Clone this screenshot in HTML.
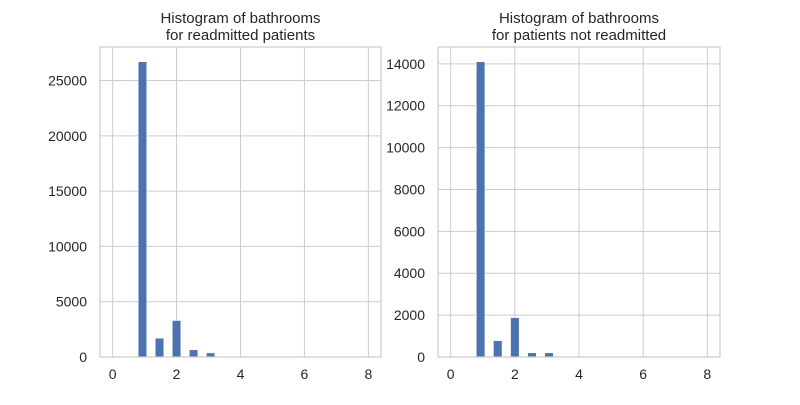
<!DOCTYPE html>
<html><head><meta charset="utf-8"><style>
body{margin:0;background:#fff;}
svg{font-family:"Liberation Sans","DejaVu Sans",sans-serif;}
</style></head><body>
<svg id="c" width="800" height="400" xmlns="http://www.w3.org/2000/svg"></svg>
<script>
const binEdgesMin = 0, binEdgesMax = 8, binCount = 30;
const countsReadmitted = [0,0,0,26700,0,1700,0,3300,0,650,0,370,0,30,0,10,0,0,0,0,0,0,0,0,0,0,0,0,0,1];
const countsNotReadmitted = [0,0,0,14100,0,780,0,1880,0,200,0,200,0,10,0,20,0,0,0,0,0,0,0,0,0,0,0,0,0,1];
const xTicks = [0,2,4,6,8];
const yTicksLeft = [0,5000,10000,15000,20000,25000];
const yTicksRight = [0,2000,4000,6000,8000,10000,12000,14000];
const titles = [["Histogram of bathrooms","for readmitted patients"],["Histogram of bathrooms","for patients not readmitted"]];

const svg = document.getElementById('c');
const NS = 'http://www.w3.org/2000/svg';
function mk(tag, attrs, parent){const e=document.createElementNS(NS,tag);for(const k in attrs)e.setAttribute(k,attrs[k]);(parent||svg).appendChild(e);return e;}

function panel(x0,x1,counts,yTicks,title,name){
  const top=47,bot=357;
  const g=mk('g',{});
  
  
  const maxC=Math.max(...counts)*1.05;
  const xPad=(x1-x0)*0.045;
  const xs=v=>x0+xPad+(v-binEdgesMin)/(binEdgesMax-binEdgesMin)*(x1-x0-2*xPad);
  const ys=v=>bot-v/maxC*(bot-top);
  xTicks.forEach(t=>{
    const l=mk('line',{x1:xs(t),x2:xs(t),y1:top,y2:bot,stroke:'#cccccc','stroke-width':1},g);
    
    
    const tx=mk('text',{x:xs(t),y:bot+22,'text-anchor':'middle','font-size':14,fill:'#262626'},g);
    tx.textContent=t;
    
    
  });
  yTicks.forEach(t=>{
    const l=mk('line',{x1:x0,x2:x1,y1:ys(t),y2:ys(t),stroke:'#cccccc','stroke-width':1},g);
    
    
    const tx=mk('text',{x:x0-13,y:ys(t)+5,'text-anchor':'end','font-size':14,fill:'#262626'},g);
    tx.textContent=t;
    
    
  });
  const w=(binEdgesMax-binEdgesMin)/binCount;
  counts.forEach((c,i)=>{
    if(c<=0)return;
    const a=xs(binEdgesMin+i*w),b=xs(binEdgesMin+(i+1)*w);
    const r=mk('rect',{x:a,y:ys(c),width:b-a,height:bot-ys(c),fill:'#4c72b0',stroke:'#ffffff','stroke-width':0.5},g);
    
    
  });
  const f=mk('rect',{x:x0,y:top,width:x1-x0,height:bot-top,fill:'none',stroke:'#cccccc','stroke-width':1.2},g);
  
  
  title.forEach((s,i)=>{
    const t=mk('text',{x:(x0+x1)/2,y:23+i*17,'text-anchor':'middle','font-size':15,fill:'#262626'},g);
    t.textContent=s;
    
    
  });
}
panel(100,381,countsReadmitted,yTicksLeft,titles[0],'readmitted-histogram');
panel(438,720,countsNotReadmitted,yTicksRight,titles[1],'not-readmitted-histogram');
</script>
</body></html>
